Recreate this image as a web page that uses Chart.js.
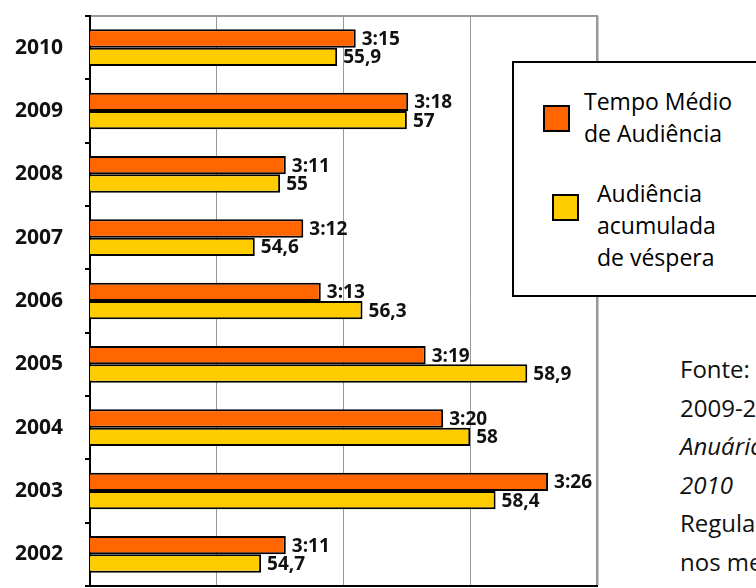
<!DOCTYPE html>
<html>
<head>
<meta charset="utf-8">
<script src="https://cdn.jsdelivr.net/npm/chart.js@4"></script>
<style>
  html, body { margin: 0; padding: 0; background: #fff; overflow: hidden; }
  body { width: 756px; height: 588px; position: relative; font-family: "Open Sans", sans-serif; }
  #wrap { position: absolute; left: 0; top: 0; width: 600px; height: 588px; }
  #legenda {
    position: absolute; left: 512px; top: 61px; width: 260px; height: 232px;
    border: 2px solid #000; background: #fff; font-size: 23px; color: #000;
  }
  .item { position: absolute; line-height: 32px; }
  .box { position: absolute; width: 23px; height: 23px; border: 2px solid #000; }
  #fonte {
    position: absolute; left: 680px; top: 350px; width: 300px;
    font-size: 24px; line-height: 38.6px; color: #111; white-space: nowrap;
  }
</style>
</head>
<body>
<div id="wrap"><canvas id="grafico"></canvas></div>

<div id="legenda">
  <div class="box" id="boxTempo" style="left:29px; top:42px;"></div>
  <div class="item" style="left:70px; top:22px;">Tempo Médio<br>de Audiência</div>
  <div class="box" id="boxAud" style="left:38px; top:131px;"></div>
  <div class="item" style="left:83px; top:114px;">Audiência<br>acumulada<br>de véspera</div>
</div>

<div id="fonte">
  Fonte: OberCom<br>
  2009-2010<br>
  <i>Anuário da Comunicação</i><br>
  <i>2010</i><br>
  Regulação<br>
  nos media
</div>

<script>
// dados
const anos = ['2010', '2009', '2008', '2007', '2006', '2005', '2004', '2003', '2002'];
// tempo médio de audiência em minutos (3:15 = 195)
const tempoMedio = [195, 198, 191, 192, 193, 199, 200, 206, 191];
// audiência acumulada de véspera (%)
const audiencia = [55.9, 57, 55, 54.6, 56.3, 58.9, 58, 58.4, 54.7];

const corTempo = '#FF6600';
const corAud = '#FFCC00';

document.getElementById('boxTempo').style.background = corTempo;
document.getElementById('boxAud').style.background = corAud;

function fmtTempo(m) {
  return Math.floor(m / 60) + ':' + String(m % 60).padStart(2, '0');
}

// etiquetas à direita das barras
const etiquetas = {
  id: 'etiquetas',
  afterDatasetsDraw(chart) {
    const ctx = chart.ctx;
    ctx.save();
    ctx.font = 'bold 19px "Open Sans"';
    ctx.fillStyle = '#111';
    ctx.textAlign = 'left';
    ctx.textBaseline = 'middle';
    chart.data.datasets.forEach((ds, i) => {
      const meta = chart.getDatasetMeta(i);
      meta.data.forEach((bar, j) => {
        const v = ds.data[j];
        const txt = i === 0 ? fmtTempo(v) : String(v).replace('.', ',');
        ctx.fillText(txt, bar.x + 6, bar.y + 1);
      });
    });
    ctx.restore();
  }
};

const ctx = document.getElementById('grafico').getContext('2d');
const grafico = new Chart(ctx, {
  type: 'bar',
  data: {
    labels: anos,
    datasets: [
      {
        label: 'Tempo Médio de Audiência',
        data: tempoMedio,
        xAxisID: 'x2',
        backgroundColor: corTempo,
        borderColor: '#000',
        borderWidth: 2
      },
      {
        label: 'Audiência acumulada de véspera',
        data: audiencia,
        xAxisID: 'x',
        backgroundColor: corAud,
        borderColor: '#000',
        borderWidth: 2
      }
    ]
  },
  options: {
    indexAxis: 'y',
    responsive: true,
    maintainAspectRatio: false,
    animation: false,
    datasets: {
      bar: { categoryPercentage: 0.58, barPercentage: 1 }
    },
    layout: { padding: { top: 16, right: 3, bottom: 2, left: 0 } },
    plugins: {
      legend: { display: false },
      tooltip: { enabled: false }
    },
    scales: {
      x: {
        position: 'bottom',
        min: 52,
        max: 60,
        afterFit(scale) { scale.height = 0; scale.paddingLeft = 0; scale.paddingRight = 0; },
        ticks: { display: false, stepSize: 2 },
        grid: {
          color: '#999',
          lineWidth: (c) => (c.index === 4 ? 2.5 : 1),
          drawTicks: false
        },
        border: { color: '#000', width: 2 }
      },
      x2: {
        position: 'top',
        min: 179.8,
        max: 208.8,
        afterFit(scale) { scale.height = 0; scale.paddingLeft = 0; scale.paddingRight = 0; },
        ticks: { display: false },
        grid: { drawOnChartArea: false, drawTicks: false },
        border: { color: '#999', width: 2 }
      },
      y: {
        afterFit(scale) {
          scale.width = 90;
          scale.paddingTop = 0;
          scale.paddingBottom = 0;
        },
        ticks: {
          color: '#111',
          font: { family: 'Open Sans', size: 21, weight: 'bold' },
          padding: 22
        },
        grid: {
          offset: true,
          drawOnChartArea: false,
          color: '#000',
          lineWidth: 2,
          tickLength: 5
        },
        border: { color: '#000', width: 2 }
      }
    }
  },
  plugins: [etiquetas]
});
</script>
</body>
</html>
